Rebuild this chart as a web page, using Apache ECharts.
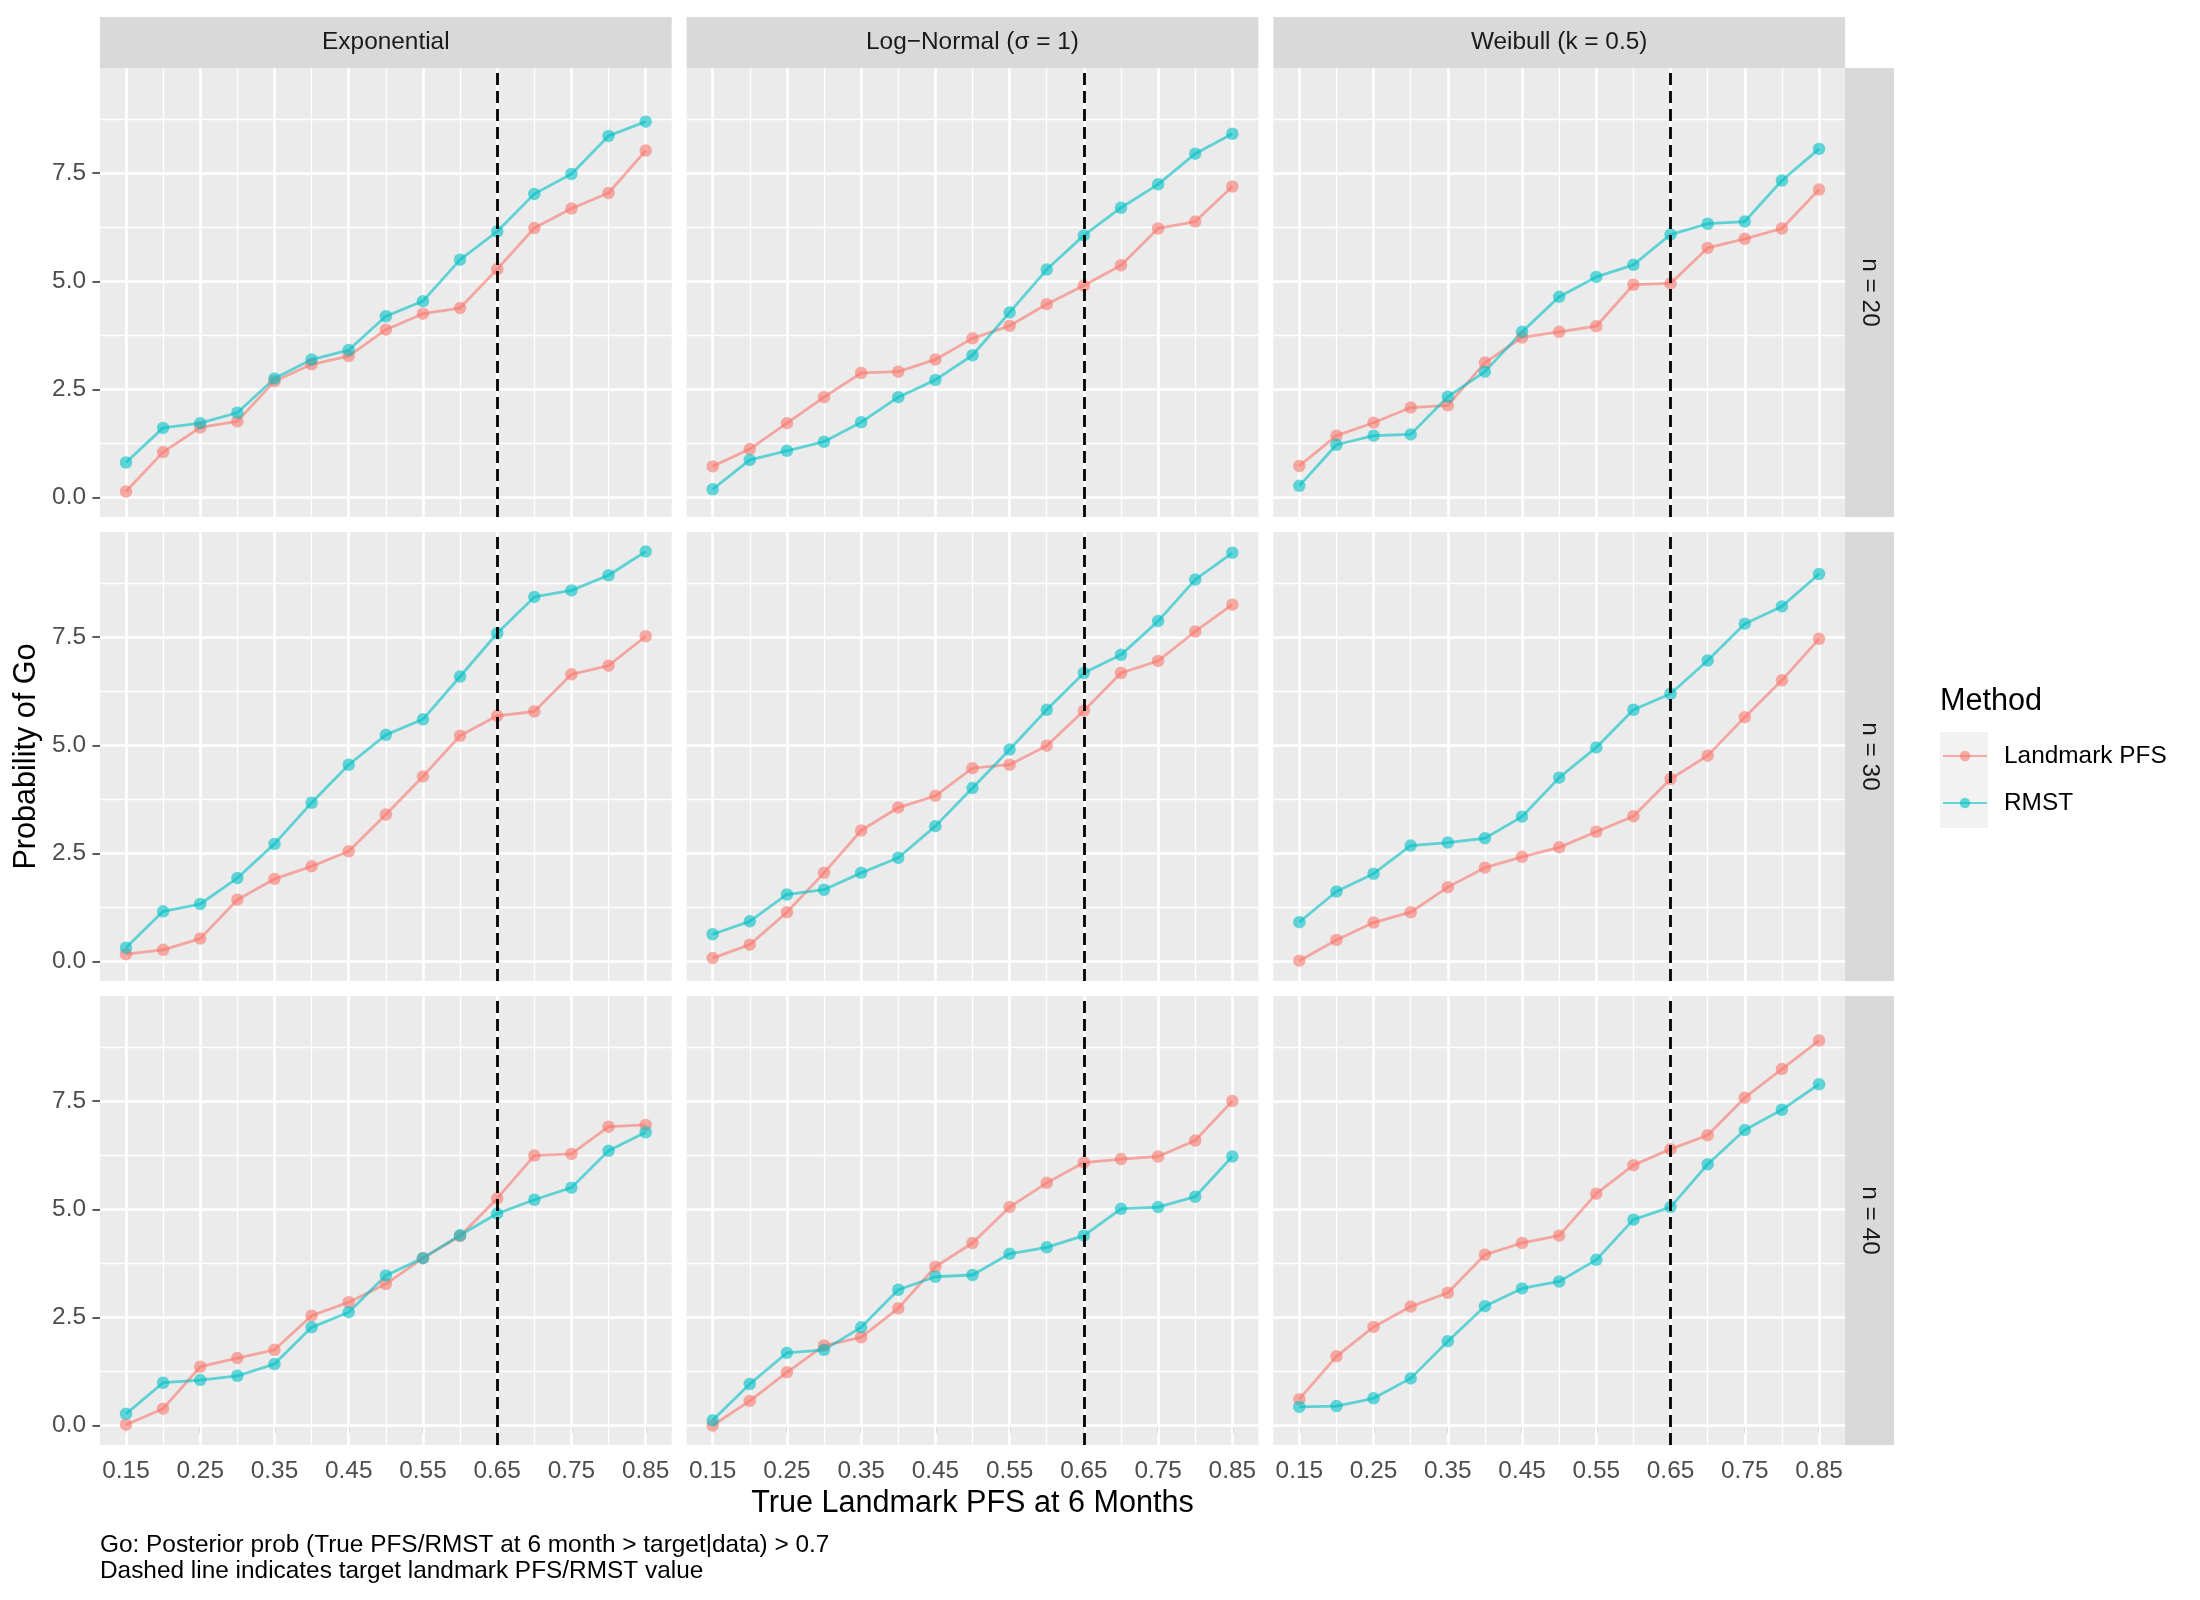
<!DOCTYPE html>
<html>
<head>
<meta charset="utf-8">
<script src="https://cdn.jsdelivr.net/npm/echarts@6/dist/echarts.min.js"></script>
<style>
html,body{margin:0;padding:0;background:#ffffff;}
#chart{width:2200px;height:1600px;}
</style>
</head>
<body>
<div id="chart"></div>
<script>
// ---------------- DATA ----------------
const pfsValues = [0.15,0.20,0.25,0.30,0.35,0.40,0.45,0.50,0.55,0.60,0.65,0.70,0.75,0.80,0.85];
const methods = ['Landmark PFS', 'RMST'];
const distributions = ['Exponential', 'Log\u2212Normal (\u03c3 = 1)', 'Weibull (k = 0.5)'];
const sampleSizes = ['n = 20', 'n = 30', 'n = 40'];
const targetPfs = 0.65;

const xTickValues = [0.15,0.25,0.35,0.45,0.55,0.65,0.75,0.85];
const xMinorValues = [0.20,0.30,0.40,0.50,0.60,0.70,0.80];
const yTickValues = [0, 2.5, 5, 7.5];
const yMinorValues = [1.25, 3.75, 6.25, 8.75];

// n = 20
const exp20Landmark = [0.14,1.05,1.62,1.76,2.69,3.08,3.27,3.88,4.25,4.38,5.28,6.23,6.68,7.04,8.02];
const exp20Rmst     = [0.81,1.61,1.72,1.96,2.75,3.19,3.41,4.19,4.54,5.50,6.15,7.02,7.48,8.36,8.69];
const ln20Landmark  = [0.72,1.12,1.72,2.32,2.88,2.91,3.19,3.68,3.97,4.47,4.90,5.37,6.22,6.38,7.19];
const ln20Rmst      = [0.19,0.87,1.08,1.29,1.74,2.32,2.72,3.29,4.28,5.27,6.06,6.70,7.24,7.95,8.41];
const wb20Landmark  = [0.73,1.43,1.73,2.08,2.13,3.12,3.70,3.83,3.96,4.92,4.95,5.77,5.98,6.22,7.12];
const wb20Rmst      = [0.27,1.22,1.43,1.46,2.33,2.91,3.83,4.64,5.10,5.38,6.08,6.33,6.38,7.33,8.06];
// n = 30
const exp30Landmark = [0.17,0.27,0.53,1.43,1.91,2.20,2.55,3.40,4.28,5.22,5.68,5.78,6.64,6.84,7.52];
const exp30Rmst     = [0.32,1.16,1.33,1.93,2.72,3.67,4.55,5.24,5.60,6.59,7.59,8.43,8.58,8.93,9.48];
const ln30Landmark  = [0.08,0.39,1.14,2.05,3.03,3.56,3.83,4.47,4.55,4.99,5.80,6.67,6.95,7.63,8.25];
const ln30Rmst      = [0.63,0.93,1.55,1.66,2.05,2.40,3.13,4.01,4.90,5.82,6.67,7.09,7.87,8.83,9.45];
const wb30Landmark  = [0.02,0.50,0.90,1.14,1.72,2.17,2.42,2.64,3.00,3.36,4.22,4.76,5.65,6.50,7.46];
const wb30Rmst      = [0.91,1.62,2.03,2.68,2.75,2.85,3.35,4.25,4.95,5.82,6.19,6.96,7.81,8.21,8.96];
// n = 40
const exp40Landmark = [0.02,0.39,1.36,1.56,1.75,2.54,2.85,3.27,3.87,4.38,5.25,6.24,6.28,6.91,6.95];
const exp40Rmst     = [0.27,0.99,1.05,1.15,1.42,2.27,2.62,3.47,3.87,4.40,4.90,5.22,5.50,6.35,6.78];
const ln40Landmark  = [0.00,0.57,1.23,1.85,2.04,2.71,3.67,4.22,5.05,5.61,6.08,6.16,6.22,6.59,7.50];
const ln40Rmst      = [0.12,0.96,1.68,1.75,2.27,3.14,3.44,3.48,3.97,4.12,4.39,5.01,5.05,5.29,6.22];
const wb40Landmark  = [0.61,1.60,2.28,2.75,3.07,3.95,4.22,4.39,5.36,6.02,6.39,6.71,7.58,8.24,8.90];
const wb40Rmst      = [0.43,0.45,0.63,1.09,1.95,2.76,3.17,3.33,3.83,4.76,5.05,6.04,6.83,7.30,7.89];

// panel table [row = sample size][col = distribution] -> [landmark, rmst]
const panelData = [
  [[exp20Landmark, exp20Rmst], [ln20Landmark, ln20Rmst], [wb20Landmark, wb20Rmst]],
  [[exp30Landmark, exp30Rmst], [ln30Landmark, ln30Rmst], [wb30Landmark, wb30Rmst]],
  [[exp40Landmark, exp40Rmst], [ln40Landmark, ln40Rmst], [wb40Landmark, wb40Rmst]]
];

// ---------------- STYLE / LAYOUT ----------------
const FONT = 'Liberation Sans, Arial, Helvetica, sans-serif';
const colors = ['#F8766D', '#00BFC4'];
const panelLeft = 100, panelTop = 68, panelW = 571.67, panelH = 449, gap = 15;
const stripTopY = 17, stripTopH = 51, stripRightW = 49;
const xMin = 0.115, xMax = 0.885, yMin = -0.45, yMax = 9.93;
const smallFont = 24.4, bigFont = 30.6;

const grids = [], xAxes = [], yAxes = [], series = [], graphics = [];

for (let r = 0; r < 3; r++) {
  for (let c = 0; c < 3; c++) {
    const idx = r * 3 + c;
    const left = panelLeft + c * (panelW + gap);
    const top = panelTop + r * (panelH + gap);
    grids.push({
      left: left, top: top, width: panelW, height: panelH,
      show: true, backgroundColor: '#EBEBEB', borderWidth: 0,
      containLabel: false, outerBoundsMode: 'none'
    });
    xAxes.push({
      type: 'value', gridIndex: idx, min: xMin, max: xMax,
      axisLine: { show: false },
      splitLine: { show: false },
      axisTick: { show: r === 2, customValues: xTickValues, length: 7.6, lineStyle: { color: '#333333', width: 1.6 } },
      axisLabel: { show: r === 2, customValues: xTickValues, margin: 14,
        formatter: v => Number(v).toFixed(2),
        color: '#4D4D4D', fontSize: smallFont, fontFamily: FONT }
    });
    yAxes.push({
      type: 'value', gridIndex: idx, min: yMin, max: yMax,
      axisLine: { show: false },
      splitLine: { show: false },
      axisTick: { show: c === 0, customValues: yTickValues, length: 7.6, lineStyle: { color: '#333333', width: 1.6 } },
      axisLabel: { show: c === 0, customValues: yTickValues, margin: 14,
        formatter: v => Number(v).toFixed(1),
        color: '#4D4D4D', fontSize: smallFont, fontFamily: FONT }
    });

    // grid lines (through the axes' scales)
    const gridLineData = [];
    yMinorValues.forEach(v => gridLineData.push({ yAxis: v, lineStyle: { color: '#FFFFFF', width: 1.3, type: 'solid' } }));
    xMinorValues.forEach(v => gridLineData.push({ xAxis: v, lineStyle: { color: '#FFFFFF', width: 1.3, type: 'solid' } }));
    yTickValues.forEach(v => gridLineData.push({ yAxis: v, lineStyle: { color: '#FFFFFF', width: 2.6, type: 'solid' } }));
    xTickValues.forEach(v => gridLineData.push({ xAxis: v, lineStyle: { color: '#FFFFFF', width: 2.6, type: 'solid' } }));
    series.push({
      type: 'line', name: '__grid' + idx, xAxisIndex: idx, yAxisIndex: idx, data: [],
      silent: true, animation: false,
      markLine: { z: 1, silent: true, animation: false, symbol: ['none', 'none'],
        label: { show: false }, emphasis: { disabled: true }, data: gridLineData }
    });

    // data series
    panelData[r][c].forEach((vals, m) => {
      series.push({
        type: 'line', name: methods[m], xAxisIndex: idx, yAxisIndex: idx,
        data: pfsValues.map((x, i) => [x, vals[i]]),
        symbol: 'circle', symbolSize: 12.5, showSymbol: true,
        lineStyle: { color: colors[m], width: 2.8, opacity: 0.6 },
        itemStyle: { color: colors[m], opacity: 0.6 },
        emphasis: { disabled: true }, animation: false, z: 2
      });
    });

    // target dashed line
    series.push({
      type: 'line', name: '__target' + idx, xAxisIndex: idx, yAxisIndex: idx, data: [],
      silent: true, animation: false,
      markLine: { z: 6, silent: true, animation: false, symbol: ['none', 'none'],
        label: { show: false }, emphasis: { disabled: true },
        data: [{ xAxis: targetPfs, lineStyle: { color: '#000000', width: 2.8, type: [12, 6] } }] }
    });
  }
}

// strips
for (let c = 0; c < 3; c++) {
  const left = panelLeft + c * (panelW + gap);
  graphics.push({ type: 'rect', shape: { x: left, y: stripTopY, width: panelW, height: stripTopH },
    style: { fill: '#D9D9D9' }, z: 1, silent: true });
  graphics.push({ type: 'text', x: left + panelW / 2, y: stripTopY + stripTopH / 2, z: 2, silent: true,
    style: { text: distributions[c], fill: '#1A1A1A', font: smallFont + 'px ' + FONT, align: 'center', verticalAlign: 'middle' } });
}
const rightStripX = panelLeft + 3 * panelW + 2 * gap;
for (let r = 0; r < 3; r++) {
  const top = panelTop + r * (panelH + gap);
  graphics.push({ type: 'rect', shape: { x: rightStripX, y: top, width: stripRightW, height: panelH },
    style: { fill: '#D9D9D9' }, z: 1, silent: true });
  graphics.push({ type: 'text', x: rightStripX + stripRightW / 2, y: top + panelH / 2, rotation: -Math.PI / 2, z: 2, silent: true,
    style: { text: sampleSizes[r], fill: '#1A1A1A', font: smallFont + 'px ' + FONT, align: 'center', verticalAlign: 'middle' } });
}

// axis titles
const panelsRight = rightStripX;
graphics.push({ type: 'text', x: (panelLeft + panelsRight) / 2, y: 1504, z: 2, silent: true,
  style: { text: 'True Landmark PFS at 6 Months', fill: '#000000', font: bigFont + 'px ' + FONT, align: 'center', verticalAlign: 'middle' } });
graphics.push({ type: 'text', x: 27, y: panelTop + (3 * panelH + 2 * gap) / 2, rotation: Math.PI / 2, z: 2, silent: true,
  style: { text: 'Probability of Go', fill: '#000000', font: bigFont + 'px ' + FONT, align: 'center', verticalAlign: 'middle' } });

// caption
graphics.push({ type: 'text', x: panelLeft, y: 1545, z: 2, silent: true,
  style: { text: 'Go: Posterior prob (True PFS/RMST at 6 month > target|data) > 0.7', fill: '#000000', font: smallFont + 'px ' + FONT, align: 'left', verticalAlign: 'middle' } });
graphics.push({ type: 'text', x: panelLeft, y: 1571, z: 2, silent: true,
  style: { text: 'Dashed line indicates target landmark PFS/RMST value', fill: '#000000', font: smallFont + 'px ' + FONT, align: 'left', verticalAlign: 'middle' } });

// legend title and key backgrounds
graphics.push({ type: 'text', x: 1940, y: 702, z: 2, silent: true,
  style: { text: 'Method', fill: '#000000', font: bigFont + 'px ' + FONT, align: 'left', verticalAlign: 'middle' } });
for (let m = 0; m < 2; m++) {
  graphics.push({ type: 'rect', shape: { x: 1940, y: 732 + m * 48, width: 48, height: 48 },
    style: { fill: '#F2F2F2' }, z: 0, silent: true });
}

const option = {
  backgroundColor: '#FFFFFF',
  animation: false,
  grid: grids,
  xAxis: xAxes,
  yAxis: yAxes,
  series: series,
  legend: {
    data: methods, orient: 'vertical', left: 1942, top: 744, padding: 0,
    itemWidth: 44, itemHeight: 13, itemGap: 23, selectedMode: false,
    textStyle: { fontSize: smallFont, color: '#000000', fontFamily: FONT, padding: [0, 0, 0, 12] }
  },
  graphic: graphics
};

const chart = echarts.init(document.getElementById('chart'), null, { renderer: 'canvas', width: 2200, height: 1600 });
chart.setOption(option);
</script>
</body>
</html>
